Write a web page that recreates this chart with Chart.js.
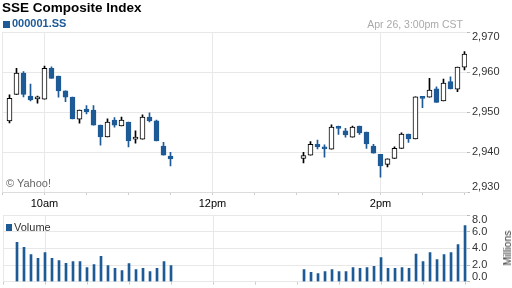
<!DOCTYPE html>
<html>
<head>
<meta charset="utf-8">
<script src="https://cdn.jsdelivr.net/npm/chart.js@4"></script>
<style>
  body { margin: 0; width: 512px; height: 288px; background: #fff; position: relative; overflow: hidden;
         font-family: "Liberation Sans", Arial, sans-serif; }
  .txt { position: absolute; white-space: nowrap; }
  #title { left: 2px; top: 0px; font-size: 13.5px; line-height: 16px; font-weight: bold; color: #000; }
  #symbolBox { position: absolute; left: 3px; top: 21px; width: 7px; height: 7px; background: #1d5a96; }
  #symbol { left: 12px; top: 17px; font-size: 11px; line-height: 13px; font-weight: bold; color: #1d5a96; }
  #stamp { right: 49px; top: 18px; font-size: 10.5px; line-height: 13px; color: #aaa; }
  #credit { left: 6px; top: 177px; font-size: 11px; line-height: 13px; color: #666; }
  #volBox { position: absolute; left: 6px; top: 224px; width: 6px; height: 7px; background: #1d5a96; }
  #volLabel { left: 14px; top: 221px; font-size: 11px; line-height: 13px; color: #333; }
  #millions { left: 507px; top: 248px; font-size: 10.5px; line-height: 12px; color: #333;
              transform: translate(-50%, -50%) rotate(-90deg); }
  #priceChart { position: absolute; left: 0; top: 0; }
  #volChart { position: absolute; left: 0; top: 205px; }
</style>
</head>
<body>
<canvas id="priceChart" width="512" height="210"></canvas>
<canvas id="volChart" width="512" height="83"></canvas>
<div class="txt" id="title">SSE Composite Index</div>
<div id="symbolBox"></div>
<div class="txt" id="symbol">000001.SS</div>
<div class="txt" id="stamp">Apr 26, 3:00pm CST</div>
<div class="txt" id="credit">© Yahoo!</div>
<div id="volBox"></div>
<div class="txt" id="volLabel">Volume</div>
<div class="txt" id="millions">Millions</div>
<script>
const times = [
    '9:35', '9:40', '9:45', '9:50', '9:55', '10:00', '10:05', '10:10', '10:15', '10:20', '10:25', '10:30',
    '10:35', '10:40', '10:45', '10:50', '10:55', '11:00', '11:05', '11:10', '11:15', '11:20', '11:25', '11:30',
    '13:05', '13:10', '13:15', '13:20', '13:25', '13:30', '13:35', '13:40', '13:45', '13:50', '13:55', '14:00',
    '14:05', '14:10', '14:15', '14:20', '14:25', '14:30', '14:35', '14:40', '14:45', '14:50', '14:55', '15:00'
];
const openPx = [
    2947.8, 2954.4, 2959.7, 2954.0, 2953.3, 2953.2, 2960.9, 2959.0, 2955.3, 2953.7, 2948.2, 2950.7,
    2950.5, 2946.7, 2943.8, 2948.0, 2946.5, 2947.5, 2943.2, 2943.2, 2948.7, 2947.8, 2941.5, 2939.0,
    2938.4, 2939.2, 2941.9, 2941.2, 2940.7, 2946.2, 2945.3, 2943.7, 2946.5, 2945.0, 2941.5, 2939.4,
    2936.9, 2938.4, 2940.9, 2944.5, 2943.3, 2953.7, 2953.7, 2955.8, 2952.8, 2957.6, 2955.7, 2961.2
];
const highPx = [
    2954.3, 2960.9, 2960.1, 2957.0, 2954.0, 2961.5, 2961.3, 2959.0, 2955.3, 2953.7, 2950.5, 2951.6,
    2951.6, 2946.7, 2948.3, 2948.6, 2948.7, 2947.5, 2945.3, 2949.3, 2949.8, 2948.0, 2942.4, 2939.9,
    2939.9, 2942.6, 2943.0, 2941.8, 2946.8, 2946.5, 2945.9, 2946.5, 2946.5, 2945.0, 2941.9, 2939.4,
    2938.3, 2941.3, 2944.8, 2944.5, 2953.8, 2953.7, 2958.4, 2956.3, 2958.2, 2958.8, 2961.2, 2965.1
];
const lowPx = [
    2947.3, 2954.4, 2953.8, 2952.8, 2952.2, 2953.2, 2958.4, 2953.7, 2952.6, 2948.3, 2947.2, 2949.5,
    2946.7, 2941.7, 2943.8, 2946.2, 2946.5, 2941.3, 2942.2, 2943.2, 2947.5, 2942.8, 2939.2, 2936.5,
    2937.3, 2939.2, 2940.8, 2938.7, 2940.7, 2944.4, 2943.7, 2943.7, 2944.4, 2940.9, 2939.7, 2933.7,
    2936.3, 2938.4, 2940.9, 2942.4, 2943.3, 2951.1, 2953.7, 2952.4, 2952.8, 2955.8, 2955.1, 2960.5
];
const closePx = [
    2953.4, 2959.7, 2954.4, 2953.0, 2953.3, 2960.9, 2958.4, 2955.3, 2953.7, 2948.3, 2950.5, 2950.1,
    2946.7, 2943.8, 2947.5, 2946.7, 2948.0, 2942.8, 2943.2, 2948.7, 2947.8, 2942.8, 2939.2, 2938.3,
    2939.1, 2941.9, 2941.3, 2940.8, 2946.2, 2945.9, 2944.3, 2946.2, 2944.8, 2942.0, 2939.7, 2936.5,
    2938.3, 2940.9, 2944.5, 2943.3, 2953.8, 2953.4, 2955.5, 2952.4, 2957.2, 2955.8, 2961.2, 2964.5
];
// millions of shares, first bar of the day not shown
const volumeM = [
    null, 4.72, 4.12, 3.24, 2.80, 3.48, 2.80, 2.52, 2.20, 2.40, 2.40, 1.68,
    2.04, 3.04, 1.92, 1.60, 1.32, 2.16, 1.44, 1.60, 1.20, 1.60, 2.40, 1.92,
    1.44, 1.12, 0.96, 1.20, 1.44, 1.20, 1.20, 1.68, 1.60, 1.68, 1.84, 2.88,
    1.60, 1.60, 1.68, 1.60, 3.32, 2.40, 3.48, 2.64, 3.24, 3.48, 4.44, 6.72
];
const hourTicks = [600, 720, 840];
const hourLabels = ['10am', '12pm', '2pm'];

const FONT = '"Liberation Sans", Arial, sans-serif';
const BLUE = '#1d5a96';
const GRID = '#e8e8e8';
Chart.defaults.font.family = FONT;

const toMinutes = t => {
    const [h, m] = t.split(':');
    return Number(h) * 60 + Number(m);
};
const xs = times.map(toMinutes);
const isUp = i => closePx[i] >= openPx[i];

function timeAxis(showLabels, maxMin) {
    return {
        type: 'linear',
        min: 570,
        max: maxMin,
        offset: false,
        afterFit: s => { s.height = showLabels ? 18 : 6.3; s.paddingLeft = 0; s.paddingRight = 0; },
        border: { display: showLabels, color: '#dcdcdc' },
        grid: {
            offset: false,
            color: c => (c.tick && (c.tick.value === 570 || hourTicks.includes(c.tick.value))) ? GRID : 'rgba(0,0,0,0)',
            tickColor: '#cccccc',
            tickLength: 3
        },
        ticks: {
            stepSize: 30,
            includeBounds: false,
            autoSkip: false,
            maxRotation: 0,
            padding: 2,
            display: showLabels,
            color: '#000',
            font: { size: 11 },
            callback: v => {
                const i = hourTicks.indexOf(v);
                return i >= 0 ? hourLabels[i] : '';
            }
        }
    };
}

const priceFmt = v => v.toLocaleString('en-US');

new Chart(document.getElementById('priceChart'), {
    type: 'bar',
    data: {
        datasets: [
            {
                label: 'body',
                data: xs.map((x, i) => ({ x, y: [openPx[i], closePx[i]] })),
                backgroundColor: xs.map((x, i) => isUp(i) ? '#ffffff' : BLUE),
                borderColor: xs.map((x, i) => isUp(i) ? '#000000' : BLUE),
                borderWidth: 1,
                borderSkipped: false,
                barThickness: 5,
                minBarLength: 2,
                grouped: false
            },
            {
                label: 'wick',
                data: xs.map((x, i) => ({ x, y: [lowPx[i], highPx[i]] })),
                backgroundColor: xs.map((x, i) => isUp(i) ? '#000000' : BLUE),
                borderWidth: 0,
                barThickness: 1,
                grouped: false
            }
        ]
    },
    options: {
        responsive: false,
        animation: false,
        devicePixelRatio: 1,
        layout: { padding: { top: 32, left: 2.5, right: 0, bottom: 0 } },
        plugins: { legend: { display: false }, tooltip: { enabled: false } },
        scales: {
            x: timeAxis(true, 901.8),
            y: {
                position: 'right',
                min: 2930,
                max: 2970,
                afterFit: s => { s.width = 45; s.paddingTop = 0; s.paddingBottom = 0; },
                border: { display: false },
                grid: { color: GRID, tickColor: '#bbbbbb', tickLength: 3 },
                ticks: {
                    stepSize: 10,
                    padding: 2,
                    autoSkip: false,
                    color: '#333',
                    font: { size: 11, lineHeight: 0.85 },
                    callback: v => v === 2970 ? ['', priceFmt(v)] : v === 2930 ? [priceFmt(v), ''] : priceFmt(v)
                }
            }
        }
    }
});

new Chart(document.getElementById('volChart'), {
    type: 'bar',
    data: {
        datasets: [{
            label: 'Volume',
            data: xs.map((x, i) => ({ x, y: volumeM[i] })),
            backgroundColor: BLUE,
            borderWidth: 0,
            barThickness: 2
        }]
    },
    options: {
        responsive: false,
        animation: false,
        devicePixelRatio: 1,
        layout: { padding: { top: 10, left: 3, right: 0, bottom: 0 } },
        plugins: { legend: { display: false }, tooltip: { enabled: false } },
        scales: {
            x: timeAxis(false, 901.4),
            y: {
                position: 'right',
                min: 0,
                max: 8,
                afterFit: s => { s.width = 45; s.paddingTop = 0; s.paddingBottom = 0; },
                border: { display: false },
                grid: { color: GRID, tickColor: '#bbbbbb', tickLength: 3 },
                ticks: {
                    stepSize: 2,
                    padding: 2,
                    autoSkip: false,
                    color: '#333',
                    font: { size: 11, lineHeight: 0.9 },
                    callback: v => v === 8 ? ['', v.toFixed(1)] : v === 0 ? [v.toFixed(1), ''] : v.toFixed(1)
                }
            }
        }
    }
});
</script>
</body>
</html>
